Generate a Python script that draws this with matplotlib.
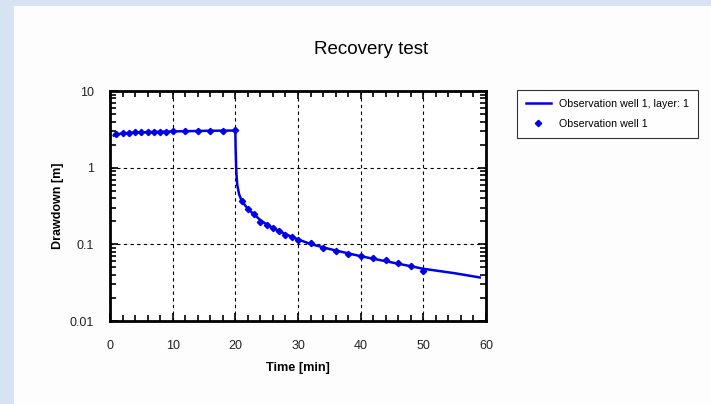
import matplotlib
matplotlib.use("Agg")
import matplotlib.pyplot as plt
from matplotlib.patches import Rectangle
from matplotlib.ticker import MultipleLocator, LogLocator, NullFormatter, FixedLocator, FixedFormatter

plt.rcParams["font.family"] = ["Liberation Sans", "DejaVu Sans"]

# measured drawdown, observation well 1
obs_time = [1, 2, 3, 4, 5, 6, 7, 8, 9, 10, 12, 14, 16, 18, 20,
            21, 22, 23, 24, 25, 26, 27, 28, 29, 30,
            32, 34, 36, 38, 40, 42, 44, 46, 48, 50]
obs_draw = [2.72, 2.80, 2.86, 2.88, 2.90, 2.92, 2.94, 2.95, 2.96, 2.97, 2.99, 3.05, 3.05, 3.05, 3.06,
            0.37, 0.29, 0.25, 0.197, 0.178, 0.163, 0.149, 0.134, 0.123, 0.114,
            0.105, 0.089, 0.081, 0.0757, 0.0705, 0.067, 0.062, 0.0572, 0.0518, 0.045]

# computed drawdown, observation well 1, layer 1
model_time = [0.6, 1, 2, 4, 6, 8, 10, 12, 14, 16, 18, 20, 20.05, 20.15, 20.3, 20.6, 21,
              22, 23, 24, 25, 26, 28, 30, 32, 35, 40, 45, 50, 55, 59]
model_draw = [2.62, 2.70, 2.80, 2.87, 2.91, 2.94, 2.97, 2.99, 3.01, 3.03, 3.04, 3.05, 1.7, 0.9, 0.6, 0.45, 0.37,
              0.29, 0.245, 0.207, 0.182, 0.163, 0.136, 0.116, 0.101, 0.087, 0.07, 0.058, 0.048, 0.042, 0.037]

fig = plt.figure(figsize=(7.11, 4.04), dpi=100)
fig.patch.set_facecolor("#d5e3f2")
fig.patches.append(Rectangle((14 / 711, 0), 1, 398 / 404, transform=fig.transFigure,
                             facecolor="#fcfdfc", edgecolor="none", zorder=-5))

ax = fig.add_axes([110 / 711, 1 - 321 / 404, 376 / 711, 230 / 404])
ax.set_facecolor("white")

ax.plot(model_time, model_draw, color="#0000e6", lw=1.8, label="Observation well 1, layer: 1")
ax.plot(obs_time, obs_draw, ls="none", marker="D", ms=3.2, color="#0000e6", label="Observation well 1")

ax.set_yscale("log")
ax.set_xlim(0, 60)
ax.set_ylim(0.01, 10)

ax.xaxis.set_major_locator(MultipleLocator(10))
ax.xaxis.set_minor_locator(MultipleLocator(2))
ax.yaxis.set_major_locator(FixedLocator([0.01, 0.1, 1, 10]))
ax.yaxis.set_major_formatter(FixedFormatter(["0.01", "0.1", "1", "10"]))
ax.yaxis.set_minor_locator(LogLocator(base=10, subs=range(2, 10)))
ax.yaxis.set_minor_formatter(NullFormatter())

ax.grid(True, which="major", color="black", ls=(0, (3, 3)), lw=0.8)
ax.tick_params(which="both", direction="in", top=True, right=True, color="black", width=1.2)
ax.tick_params(which="major", length=5.5)
ax.tick_params(which="minor", length=4)
ax.tick_params(axis="x", which="major", pad=14, labelsize=9, labelcolor="#222222")
ax.tick_params(axis="y", which="major", pad=11.5, labelsize=9, labelcolor="#222222")
for s in ax.spines.values():
    s.set_linewidth(2)

ax.set_xlabel("Time [min]", fontsize=9.2, fontweight="bold", labelpad=7)
ax.set_ylabel("Drawdown [m]", fontsize=9, fontweight="bold", labelpad=4)

fig.text(371 / 711, 1 - 49 / 404, "Recovery test", ha="center", va="center", fontsize=13.5)

leg = ax.legend(loc="upper left", bbox_to_anchor=(517 / 711, 1 - 90 / 404), bbox_transform=fig.transFigure,
                borderaxespad=0, fontsize=7.7, frameon=True, fancybox=False, edgecolor="black",
                handlelength=2.3, borderpad=0.85, labelspacing=0.9, handletextpad=0.75)
leg.get_frame().set_linewidth(0.8)

fig.savefig("out.png", dpi=100, facecolor=fig.get_facecolor())
